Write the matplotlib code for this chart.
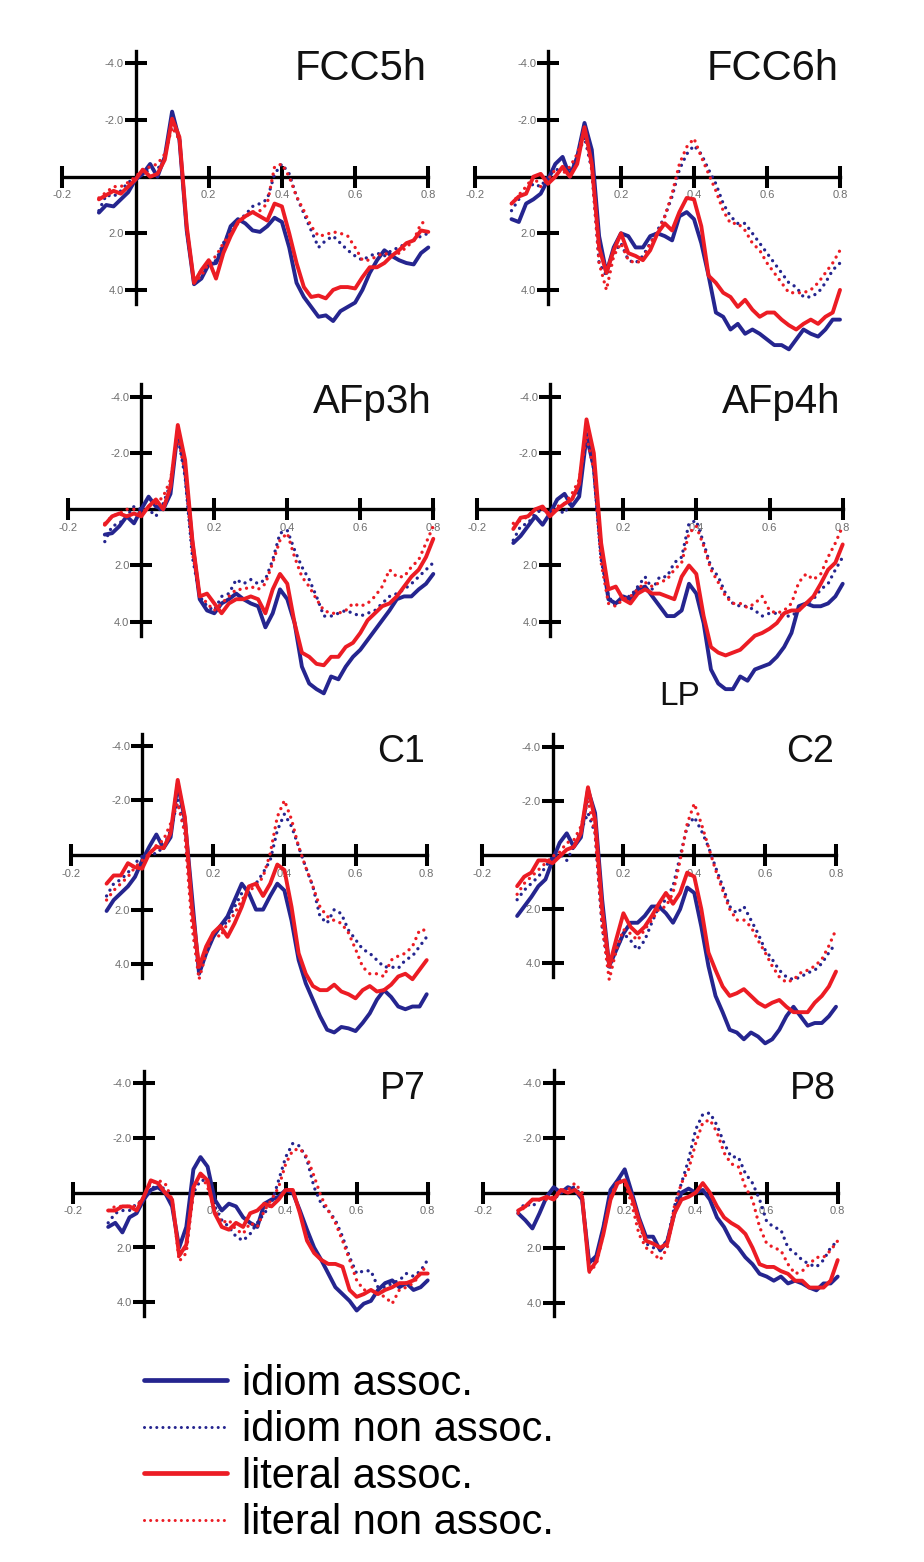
import matplotlib
matplotlib.use('Agg')
import matplotlib.pyplot as plt
import numpy as np

plt.rcParams['font.family'] = ['Liberation Sans', 'DejaVu Sans']

# sample times (s), one value every 20 ms
time_s = np.linspace(-0.1, 0.8, 46)

# amplitudes in microvolts (negative up)
fcc5h_ia = [1.27, 1.0, 1.05, 0.8, 0.55, 0.1, -0.1, -0.45, 0.0, -0.7, -2.3, -1.3, 1.9, 3.8, 3.6, 3.1, 3.05, 2.5, 1.75, 1.5, 1.65, 1.9, 1.95,
            1.75, 1.45, 1.6, 2.5, 3.75, 4.25, 4.6, 4.95, 4.9, 5.1, 4.75, 4.6, 4.45, 4.0, 3.4, 2.95, 2.6, 2.8, 2.95, 3.05, 3.1, 2.7, 2.5]
fcc5h_in = [1.2, 0.65, 0.7, 0.5, 0.2, 0.05, -0.1, -0.25, -0.25, -0.7, -1.9, -1.4, 1.9, 3.75, 3.3, 3.2, 2.95, 2.35, 1.9, 1.55, 1.35, 1.05, 0.95,
            0.8, -0.1, -0.45, -0.1, 0.7, 1.3, 1.9, 2.5, 2.25, 2.1, 2.35, 2.6, 2.8, 2.95, 2.8, 2.7, 2.8, 2.6, 2.5, 2.35, 2.25, 2.1, 2.0]
fcc5h_la = [0.8, 0.65, 0.5, 0.6, 0.35, 0.1, -0.25, 0.0, -0.1, -0.6, -2.05, -1.4, 1.75, 3.75, 3.3, 2.95, 3.6, 2.7, 2.1, 1.6, 1.4, 1.25, 1.4,
            1.55, 0.95, 1.05, 2.0, 3.05, 3.9, 4.25, 4.2, 4.3, 4.0, 3.9, 3.9, 3.95, 3.55, 3.2, 3.2, 3.05, 2.8, 2.6, 2.35, 2.25, 1.9, 1.95]
fcc5h_ln = [0.75, 0.55, 0.35, 0.35, 0.2, 0.0, -0.25, -0.35, -0.45, -0.8, -1.75, -1.3, 1.9, 3.75, 3.5, 3.05, 2.8, 2.35, 2.0, 1.65, 1.4, 1.25, 1.2,
            0.95, -0.35, -0.45, 0.0, 0.7, 1.2, 1.75, 2.1, 2.05, 1.95, 2.0, 2.1, 2.5, 2.95, 2.95, 2.8, 2.7, 2.8, 2.7, 2.5, 2.25, 1.65, 1.55]

fcc6h_ia = [1.5, 1.6, 0.95, 0.8, 0.6, 0.1, -0.45, -0.7, 0.0, -0.7, -1.9, -0.95, 2.1, 3.4, 2.5, 2.0, 2.1, 2.5, 2.5, 2.1, 2.0, 2.1, 2.25,
            1.4, 1.25, 1.5, 2.35, 3.5, 4.8, 4.95, 5.4, 5.2, 5.55, 5.4, 5.55, 5.75, 5.95, 5.95, 6.1, 5.75, 5.4, 5.55, 5.65, 5.4, 5.05, 5.05]
fcc6h_in = [1.2, 0.8, 0.5, 0.25, 0.35, 0.0, -0.25, -0.25, -0.25, -0.7, -1.4, -0.25, 3.05, 3.5, 2.7, 2.35, 2.95, 3.05, 2.8, 2.35, 1.9, 1.4, 0.7,
            -0.25, -0.8, -1.1, -0.8, -0.25, 0.25, 0.95, 1.4, 1.65, 1.65, 2.0, 2.35, 2.7, 3.05, 3.4, 3.75, 3.9, 4.25, 4.25, 4.1, 3.75, 3.3, 3.05]
fcc6h_la = [0.95, 0.7, 0.6, 0.0, -0.1, 0.25, 0.0, -0.35, 0.0, -0.45, -1.75, -0.45, 2.5, 3.4, 2.6, 2.0, 2.7, 2.8, 2.95, 2.6, 2.0, 1.65, 1.9,
            1.25, 0.75, 0.8, 1.75, 3.5, 3.75, 4.1, 4.25, 4.6, 4.35, 4.7, 4.95, 4.8, 4.8, 5.05, 5.25, 5.4, 5.2, 5.05, 5.2, 4.95, 4.8, 4.0]
fcc6h_ln = [0.95, 0.65, 0.35, 0.0, 0.35, 0.1, -0.25, -0.1, -0.35, -0.8, -1.65, -0.25, 3.05, 4.0, 2.8, 2.35, 2.95, 3.05, 2.95, 2.35, 2.0, 1.4, 0.6,
            -0.45, -1.05, -1.35, -0.7, -0.1, 0.5, 1.2, 1.65, 1.65, 1.9, 2.35, 2.6, 3.05, 3.4, 3.75, 4.1, 4.1, 4.1, 4.0, 3.75, 3.4, 3.05, 2.6]

afp3h_ia = [0.9, 0.85, 0.6, 0.25, 0.5, 0.0, -0.45, -0.1, 0.0, -0.55, -2.8, -1.4, 1.2, 3.2, 3.6, 3.7, 3.35, 3.2, 3.0, 3.2, 3.35, 3.45, 4.2,
            3.7, 2.85, 3.2, 4.05, 5.6, 6.2, 6.4, 6.55, 5.95, 6.05, 5.6, 5.25, 5.0, 4.65, 4.3, 3.95, 3.6, 3.2, 3.1, 3.1, 2.85, 2.65, 2.3]
afp3h_in = [1.15, 0.6, 0.5, 0.25, -0.1, 0.0, 0.0, 0.25, -0.2, -0.9, -2.6, -1.15, 1.7, 3.1, 3.45, 3.6, 3.1, 3.0, 2.5, 2.65, 2.5, 2.65, 2.5,
            1.8, 0.85, 0.75, 1.45, 2.05, 2.5, 3.1, 3.8, 3.8, 3.7, 3.6, 3.7, 3.8, 3.7, 3.6, 3.35, 3.1, 3.0, 2.85, 2.65, 2.4, 2.15, 1.9]
afp3h_la = [0.55, 0.25, 0.15, 0.25, 0.15, 0.25, -0.1, -0.35, 0.0, -0.8, -3.0, -1.75, 1.1, 3.1, 3.0, 3.35, 3.7, 3.35, 3.2, 3.2, 3.1, 3.2, 3.7,
            2.85, 2.3, 2.65, 4.05, 5.1, 5.25, 5.5, 5.55, 5.25, 5.25, 4.9, 4.75, 4.4, 3.95, 3.7, 3.45, 3.35, 3.1, 2.75, 2.4, 2.15, 1.7, 1.05]
afp3h_ln = [0.5, 0.25, 0.15, 0.0, 0.0, 0.15, -0.1, -0.2, -0.45, -1.05, -2.6, -1.3, 1.55, 3.0, 3.35, 3.6, 3.35, 3.1, 2.85, 2.85, 2.75, 2.85, 2.65,
            1.9, 1.1, 0.85, 1.7, 2.4, 2.75, 3.2, 3.6, 3.7, 3.7, 3.6, 3.35, 3.45, 3.35, 3.1, 2.75, 2.15, 2.4, 2.4, 2.05, 1.8, 1.2, 0.6]

afp4h_ia = [1.2, 0.95, 0.6, 0.25, 0.55, 0.15, -0.35, -0.55, -0.1, -0.45, -2.6, -1.5, 1.45, 3.2, 3.35, 3.1, 3.2, 2.85, 2.75, 3.1, 3.45, 3.8, 3.8,
            3.6, 2.65, 3.0, 4.05, 5.7, 6.2, 6.4, 6.4, 5.95, 6.1, 5.7, 5.6, 5.5, 5.25, 4.9, 4.4, 3.45, 3.35, 3.45, 3.45, 3.35, 3.1, 2.65]
afp4h_in = [1.1, 0.6, 0.5, 0.15, 0.0, 0.15, 0.0, 0.15, -0.35, -0.7, -2.8, -1.4, 1.8, 3.1, 3.45, 3.1, 3.1, 2.75, 2.4, 2.85, 2.4, 2.4, 1.9,
            1.7, 0.5, 0.4, 1.2, 2.05, 2.4, 3.0, 3.35, 3.45, 3.45, 3.6, 3.8, 3.7, 3.7, 3.8, 3.8, 3.6, 3.35, 3.2, 2.85, 2.65, 2.15, 1.7]
afp4h_la = [0.7, 0.3, 0.25, 0.0, -0.1, 0.25, 0.0, -0.2, -0.35, -0.9, -3.2, -2.0, 1.2, 2.85, 2.75, 3.2, 3.35, 3.0, 2.85, 3.0, 3.0, 3.1, 3.2,
            2.4, 2.0, 2.3, 3.8, 4.9, 5.1, 5.2, 5.1, 5.0, 4.75, 4.5, 4.4, 4.25, 4.05, 3.7, 3.6, 3.6, 3.35, 3.1, 2.65, 2.15, 1.9, 1.25]
afp4h_ln = [0.5, 0.4, 0.25, 0.0, 0.0, 0.15, -0.1, -0.2, -0.55, -1.05, -2.6, -1.4, 1.9, 3.35, 3.45, 3.2, 3.1, 2.85, 2.6, 2.75, 2.6, 2.5, 2.15,
            1.9, 0.85, 0.6, 1.3, 2.15, 2.6, 3.1, 3.35, 3.35, 3.5, 3.35, 3.1, 3.6, 3.7, 3.6, 3.35, 2.6, 2.3, 2.5, 2.3, 1.7, 1.2, 0.6]

c1_ia = [2.05, 1.65, 1.4, 1.15, 0.8, 0.2, -0.3, -0.75, -0.25, -0.65, -2.6, -1.3, 1.5, 4.35, 3.6, 3.0, 2.6, 2.25, 1.65, 1.05, 1.4, 2.0, 2.0,
         1.5, 1.05, 1.3, 2.4, 3.85, 4.7, 5.3, 5.9, 6.4, 6.5, 6.3, 6.35, 6.45, 6.15, 5.8, 5.3, 4.95, 5.2, 5.55, 5.65, 5.55, 5.55, 5.1]
c1_in = [1.5, 1.05, 0.9, 0.65, 0.3, 0.05, -0.05, -0.05, -0.3, -0.9, -2.0, -0.9, 2.15, 4.35, 3.6, 2.85, 2.75, 2.4, 1.9, 1.4, 1.15, 1.05, 0.65,
         0.2, -0.9, -1.5, -1.05, -0.3, 0.45, 1.15, 2.25, 2.5, 2.0, 2.15, 2.75, 3.1, 3.45, 3.6, 3.85, 4.1, 4.1, 4.15, 3.85, 3.7, 3.35, 3.0]
c1_la = [1.05, 0.75, 0.75, 0.3, 0.45, 0.5, -0.05, -0.3, -0.25, -0.8, -2.75, -1.4, 1.9, 4.1, 3.35, 2.85, 2.6, 3.0, 2.5, 1.9, 1.15, 1.05, 1.5,
         1.05, 0.35, 0.55, 1.9, 3.6, 4.35, 4.8, 4.95, 4.95, 4.75, 5.0, 5.1, 5.25, 4.95, 4.8, 5.0, 4.95, 4.75, 4.45, 4.35, 4.55, 4.2, 3.85]
c1_ln = [1.65, 1.3, 1.05, 0.8, 0.45, 0.2, -0.05, -0.35, -0.55, -1.15, -1.9, -0.8, 2.6, 4.55, 3.6, 2.85, 3.0, 2.5, 2.15, 1.65, 1.3, 1.15, 0.8,
         -0.05, -1.4, -2.0, -1.3, -0.3, 0.45, 1.15, 1.9, 2.25, 2.4, 2.5, 2.85, 3.45, 4.1, 4.35, 4.35, 4.45, 3.85, 3.7, 3.6, 3.35, 2.75, 2.75]

c2_ia = [2.25, 1.9, 1.55, 1.15, 0.9, 0.2, -0.45, -0.8, -0.3, -0.65, -2.4, -1.55, 1.65, 4.1, 3.5, 2.9, 2.5, 2.5, 2.25, 1.9, 1.9, 2.15, 2.5,
         2.0, 1.2, 1.4, 2.65, 4.1, 5.2, 5.8, 6.45, 6.55, 6.8, 6.55, 6.7, 6.95, 6.8, 6.45, 5.95, 5.6, 5.95, 6.3, 6.2, 6.2, 5.95, 5.6]
c2_in = [1.65, 1.3, 1.05, 0.8, 0.45, 0.05, -0.05, 0.2, -0.3, -0.9, -1.55, -0.8, 2.65, 4.25, 3.5, 2.9, 3.15, 3.5, 3.15, 2.5, 1.9, 1.65, 1.15,
         0.05, -1.05, -1.4, -0.9, -0.3, 0.45, 1.15, 1.9, 2.15, 1.9, 2.4, 2.9, 3.5, 3.85, 4.25, 4.5, 4.6, 4.5, 4.35, 4.25, 4.0, 3.6, 3.25]
c2_la = [1.15, 0.8, 0.65, 0.2, 0.2, 0.3, 0.05, -0.2, -0.3, -0.8, -2.5, -1.3, 2.0, 4.1, 3.1, 2.15, 2.65, 2.9, 2.65, 2.25, 1.8, 1.4, 1.8,
         1.4, 0.65, 0.8, 2.0, 3.6, 4.25, 4.85, 5.2, 5.1, 4.95, 5.2, 5.45, 5.6, 5.45, 5.35, 5.6, 5.8, 5.8, 5.8, 5.45, 5.2, 4.85, 4.3]
c2_ln = [1.45, 1.05, 0.8, 0.55, 0.3, 0.05, -0.1, -0.45, -0.55, -1.05, -2.0, -0.8, 2.65, 4.6, 3.5, 2.75, 2.9, 3.15, 2.75, 2.4, 2.0, 1.9, 1.4,
         0.2, -1.15, -1.9, -1.15, -0.3, 0.55, 1.3, 2.0, 2.4, 2.4, 2.65, 3.15, 3.6, 4.1, 4.5, 4.7, 4.6, 4.35, 4.25, 4.1, 3.85, 3.35, 2.75]

p7_ia = [1.25, 1.1, 1.45, 0.9, 0.75, 0.25, -0.1, -0.2, 0.0, 0.5, 2.0, 1.25, -0.85, -1.3, -0.95, 0.25, 0.65, 0.4, 0.5, 0.9, 1.1, 1.25, 0.4,
         0.25, 0.15, -0.1, 0.0, 0.65, 1.35, 2.0, 2.45, 2.95, 3.45, 3.7, 3.95, 4.3, 4.05, 3.95, 3.55, 3.3, 3.2, 3.45, 3.3, 3.55, 3.45, 3.2]
p7_in = [1.1, 0.75, 0.65, 0.65, 0.4, 0.25, -0.1, -0.35, -0.1, 0.25, 2.3, 2.0, 0.0, -0.45, -0.45, 0.5, 1.0, 1.25, 1.6, 1.75, 1.5, 1.1, 0.75,
         0.4, -0.45, -1.3, -1.8, -1.7, -1.2, -0.2, 0.4, 0.65, 1.0, 1.6, 2.35, 2.95, 2.85, 2.85, 3.45, 3.45, 3.3, 3.2, 2.95, 3.05, 2.85, 2.45]
p7_la = [0.65, 0.65, 0.5, 0.5, 0.65, 0.15, -0.45, -0.35, 0.0, 0.25, 2.3, 1.9, -0.2, -0.7, -0.45, 0.75, 1.25, 1.35, 1.1, 1.25, 0.75, 0.65, 0.4,
         0.5, 0.25, -0.1, -0.1, 0.75, 1.75, 2.2, 2.45, 2.6, 2.6, 2.7, 3.55, 3.8, 3.7, 3.55, 3.7, 3.55, 3.45, 3.3, 3.3, 3.2, 2.95, 2.95]
p7_ln = [0.65, 0.5, 0.5, 0.5, 0.5, 0.15, -0.35, -0.45, -0.35, 0.25, 2.5, 2.2, -0.1, -0.7, -0.2, 0.65, 1.1, 1.0, 1.35, 1.5, 1.1, 1.25, 0.65,
         0.25, -0.2, -1.05, -1.55, -1.6, -1.3, -0.6, 0.15, 0.65, 1.1, 1.75, 2.45, 3.2, 3.55, 3.55, 3.7, 3.8, 4.05, 3.55, 3.45, 3.3, 2.95, 2.6]

p8_ia = [0.75, 1.0, 1.3, 0.75, 0.15, -0.2, 0.0, -0.2, -0.1, 0.25, 2.55, 2.3, 1.25, -0.1, -0.45, -0.85, 0.0, 0.9, 1.6, 1.6, 2.1, 1.75, 0.75,
         0.0, -0.15, 0.0, -0.1, 0.25, 0.9, 1.25, 1.75, 2.0, 2.35, 2.6, 2.95, 3.05, 3.2, 3.05, 3.3, 3.2, 3.3, 3.45, 3.55, 3.3, 3.3, 3.05]
p8_in = [0.65, 0.4, 0.5, 0.25, 0.15, 0.25, 0.0, -0.2, -0.2, 0.15, 2.6, 2.4, 1.25, 0.0, -0.45, -0.45, 0.15, 1.1, 1.85, 2.0, 2.0, 1.75, 0.5,
         -0.35, -1.2, -2.3, -2.85, -2.9, -2.45, -1.8, -1.3, -1.3, -0.7, -0.35, 0.25, 1.05, 1.25, 1.35, 2.0, 2.2, 2.45, 2.6, 2.7, 2.45, 2.0, 1.75]
p8_la = [0.65, 0.5, 0.25, 0.25, 0.15, 0.25, -0.1, 0.0, -0.1, 0.15, 2.85, 2.5, 1.5, 0.25, -0.35, -0.45, 0.15, 1.0, 1.75, 1.85, 2.0, 1.85, 0.75,
         0.25, 0.15, 0.0, -0.35, 0.0, 0.5, 0.9, 1.1, 1.25, 1.5, 2.0, 2.6, 2.7, 2.7, 2.85, 2.95, 3.2, 3.2, 3.45, 3.45, 3.45, 3.2, 2.45]
p8_ln = [0.75, 0.5, 0.25, 0.25, 0.25, 0.15, -0.1, -0.1, -0.35, 0.0, 2.9, 2.6, 1.5, 0.15, -0.45, -0.35, 0.4, 1.5, 2.0, 2.2, 2.45, 2.0, 0.5,
         -0.35, -0.85, -1.8, -2.55, -2.65, -2.2, -1.45, -1.05, -0.95, -0.2, 0.25, 1.25, 1.85, 2.0, 2.1, 2.6, 2.95, 2.85, 2.6, 2.35, 2.35, 2.1, 1.75]

channel_names = ['FCC5h', 'FCC6h', 'AFp3h', 'AFp4h', 'C1', 'C2', 'P7', 'P8']
channel_series = [
    [fcc5h_ia, fcc5h_in, fcc5h_la, fcc5h_ln],
    [fcc6h_ia, fcc6h_in, fcc6h_la, fcc6h_ln],
    [afp3h_ia, afp3h_in, afp3h_la, afp3h_ln],
    [afp4h_ia, afp4h_in, afp4h_la, afp4h_ln],
    [c1_ia, c1_in, c1_la, c1_ln],
    [c2_ia, c2_in, c2_la, c2_ln],
    [p7_ia, p7_in, p7_la, p7_ln],
    [p8_ia, p8_in, p8_la, p8_ln],
]
condition_labels = ['idiom assoc.', 'idiom non assoc.', 'literal assoc.', 'literal non assoc.']

x_ticks = [-0.2, 0.2, 0.4, 0.6, 0.8]
x_tick_labels = ['-0.2', '0.2', '0.4', '0.6', '0.8']
y_ticks = [-4.0, -2.0, 2.0, 4.0]
y_tick_labels = ['-4.0', '-2.0', '2.0', '4.0']

for name, ser in zip(channel_names, channel_series):
    for s in ser:
        if len(s) != len(time_s):
            raise ValueError(f'{name}: {len(s)} values')

# panel placement in pixels: x of -0.2, x of 0.8, y of zero line, px per uV, title size
W, H = 924, 1562
layout = [
    (62.3, 428.3, 176.7, 28.3, 30),
    (475.0, 840.0, 176.7, 28.3, 30),
    (68.3, 433.3, 509.3, 28.1, 29),
    (476.7, 842.7, 509.3, 28.1, 29),
    (71.0, 426.7, 855.0, 27.3, 27),
    (481.7, 836.0, 855.0, 27.1, 27),
    (72.7, 427.7, 1192.7, 27.4, 27),
    (482.7, 837.7, 1192.7, 27.5, 27),
]
XLO, XHI = -0.26, 0.86
YTOP, YBOT = -5.6, 7.4

BLUE = '#25258f'
RED = '#ec1c24'
dots = (0, (0.01, 2.0))
styles = [
    dict(color=BLUE, lw=2.8, solid_capstyle='round'),
    dict(color=BLUE, lw=2.4, ls=dots, dash_capstyle='round'),
    dict(color=RED, lw=2.8, solid_capstyle='round'),
    dict(color=RED, lw=2.4, ls=dots, dash_capstyle='round'),
]

fig = plt.figure(figsize=(W / 100, H / 100), dpi=100)
fig.patch.set_facecolor('white')

axes = []
for name, ser, (xm, xp, y0, unit, fs) in zip(channel_names, channel_series, layout):
    sx = xp - xm
    left = xm + (XLO + 0.2) * sx
    width = (XHI - XLO) * sx
    top = y0 + YTOP * unit
    bottom = y0 + YBOT * unit
    ax = fig.add_axes([left / W, 1 - bottom / H, width / W, (bottom - top) / H])
    ax.set_facecolor('none')
    for vals, st in zip(ser, styles):
        ax.plot(time_s, vals, zorder=3, **st)
    ax.set_xlim(XLO, XHI)
    ax.set_ylim(YBOT, YTOP)

    ax.spines['top'].set_visible(False)
    ax.spines['right'].set_visible(False)
    ax.spines['left'].set_position(('data', 0))
    ax.spines['bottom'].set_position(('data', 0))
    ax.spines['left'].set_bounds(-4.45, 4.5)
    ax.spines['bottom'].set_bounds(-0.2, 0.8)
    for side in ('left', 'bottom'):
        ax.spines[side].set_linewidth(2.4)

    ax.set_xticks(x_ticks, x_tick_labels)
    ax.set_yticks(y_ticks, y_tick_labels)
    ax.tick_params(direction='inout', length=16.5, width=2.9, labelsize=8, labelcolor='#6e6e6e')
    ax.tick_params(axis='x', pad=1.5)
    ax.tick_params(axis='y', pad=0.3)

    ax.text(0.795, -3.42, name, ha='right', va='baseline', fontsize=fs, color='#111111')
    axes.append(ax)

axes[3].text(0.30, 6.96, 'LP', ha='left', va='baseline', fontsize=24, color='#111111')

leg = fig.legend(handles=axes[0].lines[:4], labels=condition_labels, loc='upper left',
                 bbox_to_anchor=(144 / W, 1 - 1364 / H), frameon=False, fontsize=30,
                 handlelength=2.0, handletextpad=0.36, labelspacing=0.155,
                 borderpad=0, borderaxespad=0)
for ln, lw in zip(leg.get_lines(), [3.4, 2.2, 3.4, 2.2]):
    ln.set_linewidth(lw)

fig.savefig('out.png', dpi=100, facecolor='white')
